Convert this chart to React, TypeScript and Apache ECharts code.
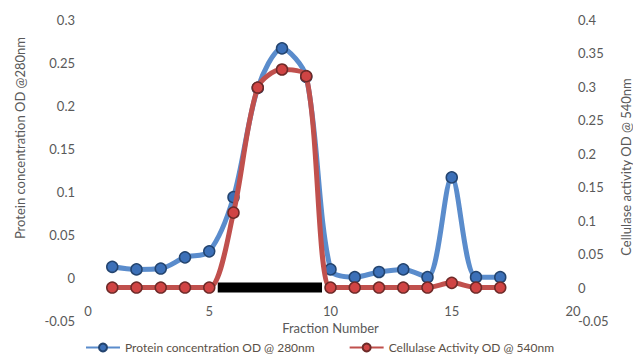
import React, { useEffect, useRef } from "react";
import * as echarts from "echarts";

const fractions = [1, 2, 3, 4, 5, 6, 7, 8, 9, 10, 11, 12, 13, 14, 15, 16, 17];
const proteinOD280 = [0.013, 0.010, 0.011, 0.024, 0.031, 0.094, 0.221, 0.267, 0.234, 0.010, 0.001, 0.007, 0.010, 0.001, 0.117, 0.001, 0.001];
const cellulaseOD540 = [0, 0, 0, 0, 0, 0.112, 0.299, 0.326, 0.316, 0, 0, 0, 0, 0, 0.007, 0, 0];
const poolStart = 5.35;
const poolEnd = 9.65;
const seriesNames = ["Protein concentration OD @ 280nm", "Cellulase Activity OD @ 540nm"];
const leftAxisTitle = "Protein concentration OD @280nm";
const rightAxisTitle = "Cellulase activity OD @ 540nm";
const xAxisTitle = "Fraction Number";

const FONT = "Lato";
const GRAY = "#595959";

export default function App() {
  const ref = useRef<HTMLDivElement>(null);
  useEffect(() => {
    if (!ref.current) return;
    const chart = echarts.init(ref.current, undefined, { renderer: "svg" });
    const fmt = (v: number) => String(parseFloat(v.toFixed(2)));
    chart.setOption({
      animation: false,
      backgroundColor: "#ffffff",
      grid: { left: 88, right: 60, top: 20, bottom: 35 },
      legend: {
        left: 85,
        top: 341,
        padding: 0,
        itemWidth: 34,
        itemHeight: 10,
        itemGap: 34,
        data: seriesNames,
        textStyle: { fontFamily: FONT, fontSize: 12, color: "#5a5046", lineHeight: 13 },
      },
      xAxis: {
        type: "value",
        min: 0,
        max: 20,
        interval: 5,
        offset: -25,
        axisLine: { show: false },
        axisTick: { show: false },
        splitLine: { show: false },
        axisLabel: { fontFamily: FONT, fontSize: 13, color: GRAY, margin: 8 },
        name: xAxisTitle,
        nameLocation: "middle",
        nameGap: 24,
        nameTextStyle: { fontFamily: FONT, fontSize: 13, color: GRAY },
      },
      yAxis: [
        {
          type: "value",
          min: -0.05,
          max: 0.3,
          interval: 0.05,
          axisLine: { show: false },
          axisTick: { show: false },
          splitLine: { show: false },
          axisLabel: { fontFamily: FONT, fontSize: 13, color: GRAY, margin: 13, formatter: fmt },
        },
        {
          type: "value",
          min: -0.05,
          max: 0.4,
          interval: 0.05,
          position: "right",
          axisLine: { show: false },
          axisTick: { show: false },
          splitLine: { show: false },
          axisLabel: { fontFamily: FONT, fontSize: 13, color: GRAY, margin: 5, formatter: fmt },
        },
      ],
      graphic: [
        {
          type: "text",
          x: 20,
          y: 138,
          rotation: Math.PI / 2,
          style: {
            text: leftAxisTitle,
            fontFamily: FONT,
            fontSize: 13,
            fill: GRAY,
            align: "center",
            verticalAlign: "middle",
          },
        },
        {
          type: "text",
          x: 626,
          y: 167,
          rotation: Math.PI / 2,
          style: {
            text: rightAxisTitle,
            fontFamily: FONT,
            fontSize: 13,
            fill: GRAY,
            align: "center",
            verticalAlign: "middle",
          },
        },
      ],
      series: [
        {
          name: "pool",
          type: "line",
          yAxisIndex: 1,
          data: [[poolStart, 0], [poolEnd, 0]],
          symbol: "none",
          lineStyle: { color: "#000000", width: 10 },
          z: 1,
          silent: true,
        },
        {
          name: seriesNames[0],
          type: "line",
          yAxisIndex: 0,
          data: fractions.map((f, i) => [f, proteinOD280[i]]),
          smooth: 0.3,
          symbol: "circle",
          symbolSize: 11,
          lineStyle: { color: "#5a8ccc", width: 5 },
          itemStyle: { color: "#3c70b8", borderColor: "#23446f", borderWidth: 1.5 },
          z: 2,
        },
        {
          name: seriesNames[1],
          type: "line",
          yAxisIndex: 1,
          data: fractions.map((f, i) => [f, cellulaseOD540[i]]),
          smooth: 0.3,
          symbol: "circle",
          symbolSize: 11,
          lineStyle: { color: "#c0504d", width: 5 },
          itemStyle: { color: "#d04444", borderColor: "#6e2a28", borderWidth: 1.5 },
          z: 3,
        },
      ],
    });
    return () => chart.dispose();
  }, []);
  return <div ref={ref} style={{ width: 633, height: 356, position: "absolute", left: 0, top: 0 }} />;
}
